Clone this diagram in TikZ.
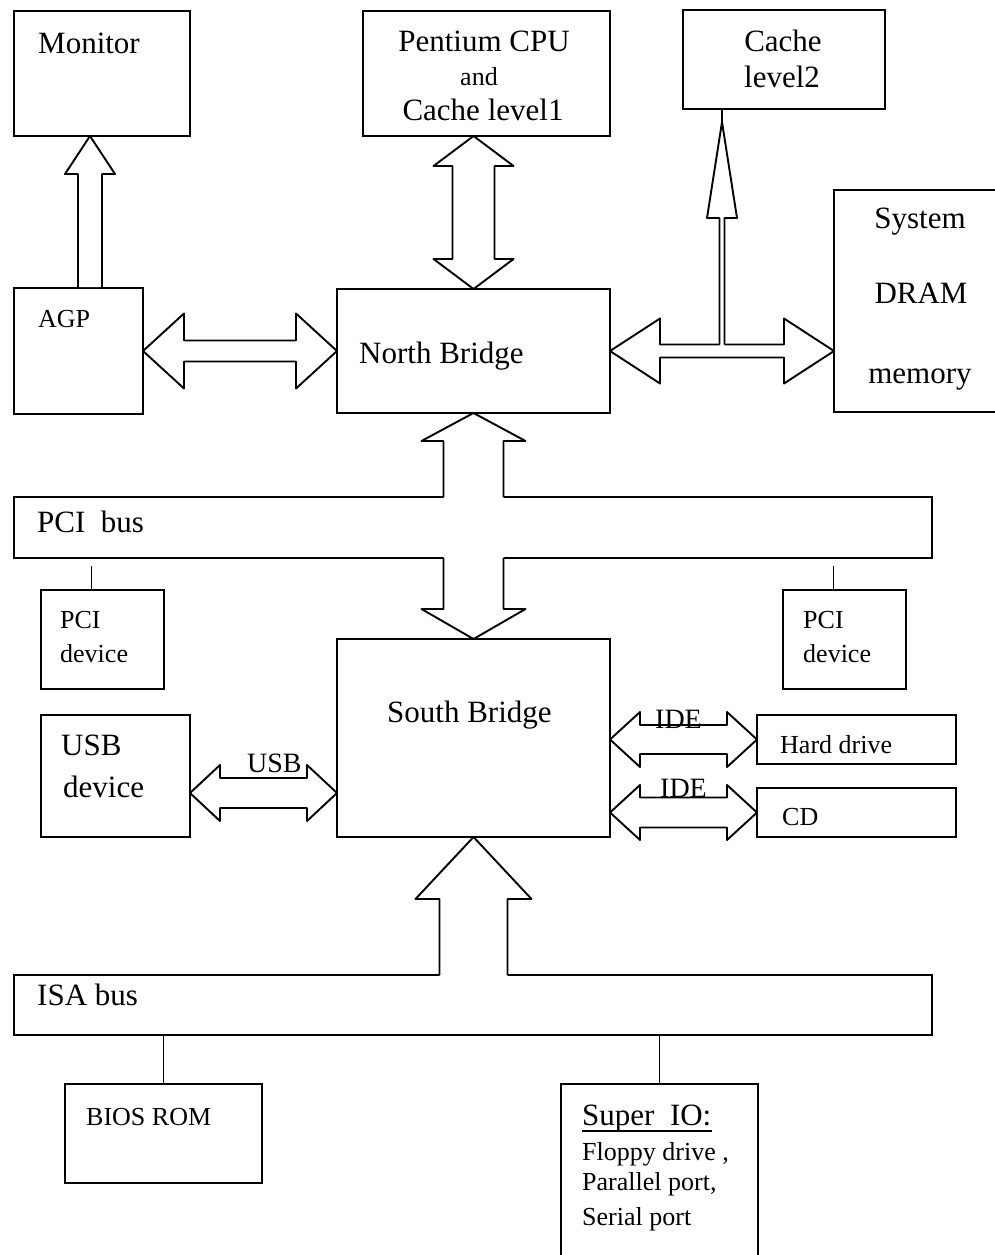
\documentclass[tikz,border=0pt]{standalone}
\usepackage{fontspec}
\setmainfont{Liberation Serif}
\usetikzlibrary{calc}
% horizontal double block arrow: #1 left tip, #2 right tip (y of #1), #3 shaft half width, #4 head half width, #5 head length
\newcommand\HDArrow[5]{%
  \path[barrow] let \p1=#1, \p2=#2 in
    (\x1,\y1) -- (\x1+#5pt,\y1+#4pt) -- (\x1+#5pt,\y1+#3pt) -- (\x2-#5pt,\y1+#3pt) -- (\x2-#5pt,\y1+#4pt)
    -- (\x2,\y1) -- (\x2-#5pt,\y1-#4pt) -- (\x2-#5pt,\y1-#3pt) -- (\x1+#5pt,\y1-#3pt) -- (\x1+#5pt,\y1-#4pt) -- cycle;}
% vertical double block arrow: #1 top tip, #2 bottom tip (x of #1)
\newcommand\VDArrow[5]{%
  \path[barrow] let \p1=#1, \p2=#2 in
    (\x1,\y1) -- (\x1+#4pt,\y1-#5pt) -- (\x1+#3pt,\y1-#5pt) -- (\x1+#3pt,\y2+#5pt) -- (\x1+#4pt,\y2+#5pt)
    -- (\x1,\y2) -- (\x1-#4pt,\y2+#5pt) -- (\x1-#3pt,\y2+#5pt) -- (\x1-#3pt,\y1-#5pt) -- (\x1-#4pt,\y1-#5pt) -- cycle;}
% single vertical block arrow with open base: #1 tip, #2 base, #3 shaft hw, #4 head hw, #5 head len, #6 fill extension past base
\newcommand\OpenArrow[6]{%
  \fill[white] let \p1=#1, \p2=($#2!-#6pt!#1$), \p3=($#1!#5pt!#2$) in
    (\x1-#3pt,\y2) -- (\x1-#3pt,\y3) -- (\x1-#4pt,\y3) -- (\x1,\y1) -- (\x1+#4pt,\y3) -- (\x1+#3pt,\y3) -- (\x1+#3pt,\y2) -- cycle;
  \draw[aline] let \p1=#1, \p2=#2, \p3=($#1!#5pt!#2$) in
    (\x1-#3pt,\y2) -- (\x1-#3pt,\y3) -- (\x1-#4pt,\y3) -- (\x1,\y1) -- (\x1+#4pt,\y3) -- (\x1+#3pt,\y3) -- (\x1+#3pt,\y2);}
\newcommand\bx[5]{\node[box, minimum width=#4pt-#2pt, minimum height=#5pt-#3pt] (#1) at (#2,#3) {};}
\begin{document}
\begin{tikzpicture}[x=1pt,y=-1pt,
  box/.style={draw, line width=1.9pt, inner sep=0pt, outer sep=0pt, anchor=north west},
  txt/.style={inner sep=0pt, anchor=base west, font=\fontsize{31}{36}\selectfont},
  mtxt/.style={inner sep=0pt, anchor=base west, font=\fontsize{28}{32}\selectfont},
  stxt/.style={inner sep=0pt, anchor=base west, font=\fontsize{26}{30}\selectfont},
  ctxt/.style={inner sep=0pt, anchor=base, font=\fontsize{31}{36}\selectfont},
  cstxt/.style={inner sep=0pt, anchor=base, font=\fontsize{26}{30}\selectfont},
  barrow/.style={draw, line width=1.9pt, fill=white, line join=round},
  aline/.style={line width=1.9pt, line join=round},
  ln/.style={line width=1.9pt},
]
\useasboundingbox[fill=white] (0,0) rectangle (994,1255);

% boxes
\bx{monitor}{14}{11}{190}{136}
\bx{cpu}{363}{11}{610}{136}
\bx{l2}{683}{10}{885}{109}
\bx{dram}{834}{190}{1002}{412}
\bx{agp}{14}{288}{143}{414}
\bx{nb}{337}{289}{610}{413}
\bx{pcibus}{14}{497}{932}{558}
\bx{pcidevL}{41}{590}{164}{689}
\bx{pcidevR}{783}{590}{906}{689}
\bx{sb}{337}{639}{610}{837}
\bx{usb}{41}{715}{190}{837}
\bx{hd}{757}{715}{956}{764}
\bx{cd}{757}{788}{956}{837}
\bx{isabus}{14}{975}{932}{1035}
\bx{bios}{65}{1084}{262}{1183}
\bx{superio}{561}{1084}{758}{1275}

% named points
\coordinate (agpfoot) at ($(agp.north west)+(76,0)$);
\coordinate (l2foot) at ($(l2.south west)+(39,0)$);
\coordinate (l2tip) at ($(l2foot)+(0,13)$);
\coordinate (usbL) at ($(usb.south east)+(0,-44)$);
\coordinate (plL) at ($(pcidevL.north)+(-11,0)$);
\coordinate (plR) at ($(pcidevR.north)+(-11,0)$);

% connectors (block arrows)
\OpenArrow{(agpfoot |- monitor.south)}{(agpfoot)}{12}{25}{38}{-1}
\VDArrow{(cpu.south -| nb.north)}{(nb.north)}{21}{40}{30}
\HDArrow{(agp.east)}{(nb.west)}{10.5}{37.5}{41}
\HDArrow{(nb.east)}{(nb.east -| dram.west)}{6.5}{32.5}{50}
\draw[ln] (l2foot) -- (l2tip);
\OpenArrow{(l2tip)}{($(l2tip |- nb.east)+(0,-6.5)$)}{2.5}{15}{96}{2}
\OpenArrow{(nb.south)}{(nb.south |- pcibus.north)}{30}{52}{28}{2}
\OpenArrow{(sb.north)}{(sb.north |- pcibus.south)}{30}{52}{30}{2}
\OpenArrow{(sb.south)}{(sb.south |- isabus.north)}{34}{58}{62}{2}
\HDArrow{(usbL)}{(usbL -| sb.west)}{15}{28}{30}
\HDArrow{(sb.east |- hd.west)}{(hd.west)}{14.5}{27.5}{30}
\HDArrow{(sb.east |- cd.west)}{(cd.west)}{15}{27.5}{30}

% plain connectors
\draw[ln, shorten >=8pt] (plL) -- (plL |- pcibus.south);
\draw[ln, shorten >=8pt] (plR) -- (plR |- pcibus.south);
\draw[ln] (bios.north) -- (bios.north |- isabus.south);
\draw[ln] (superio.north) -- (superio.north |- isabus.south);

% texts
\node[txt] (tmon) at (38,54) {Monitor};
\node[stxt] (tagp) at (38,327) {AGP};
\node[ctxt] (tcpu1) at (484,52) {Pentium CPU};
\node[cstxt] (tcpu2) at (479,85) {and};
\node[ctxt] (tcpu3) at (483,120) {Cache level1};
\node[ctxt] (tl2a) at (783,52) {Cache};
\node[ctxt] (tl2b) at (782,88) {level2};
\node[ctxt] (td1) at (920,228) {System};
\node[ctxt] (td2) at (921,303) {DRAM};
\node[ctxt] (td3) at (920,383) {memory};
\node[txt] (tnb) at (359,363) {North Bridge};
\node[txt] (tpci) at (37,532) {PCI\ \ bus};
\node[stxt] (tpl1) at (60,628) {PCI};
\node[stxt] (tpl2) at (60,662) {device};
\node[stxt] (tpr1) at (803,628) {PCI};
\node[stxt] (tpr2) at (803,662) {device};
\node[txt] (tsb) at (387,722) {South Bridge};
\node[txt] (tusb1) at (61,755) {USB};
\node[txt] (tusb2) at (63,797) {device};
\node[mtxt] (tusbl) at (247,772) {USB};
\node[mtxt] (tide1) at (655,728) {IDE};
\node[mtxt] (tide2) at (660,797) {IDE};
\node[stxt] (thd) at (780,753) {Hard drive};
\node[stxt] (tcd) at (782,825) {CD};
\node[txt] (tisa) at (37,1005) {ISA bus};
\node[stxt] (tbios) at (86,1125) {BIOS ROM};
\node[txt] (tsio) at (582,1125) {Super\ \ IO:};
\draw[ln] ($(tsio.base west)+(0,6)$) -- ($(tsio.base east)+(0,6)$);
\node[stxt] (tsio2) at (582,1160) {Floppy drive ,};
\node[stxt] (tsio3) at (582,1190) {Parallel port,};
\node[stxt] (tsio4) at (582,1225) {Serial port};
\end{tikzpicture}
\end{document}
